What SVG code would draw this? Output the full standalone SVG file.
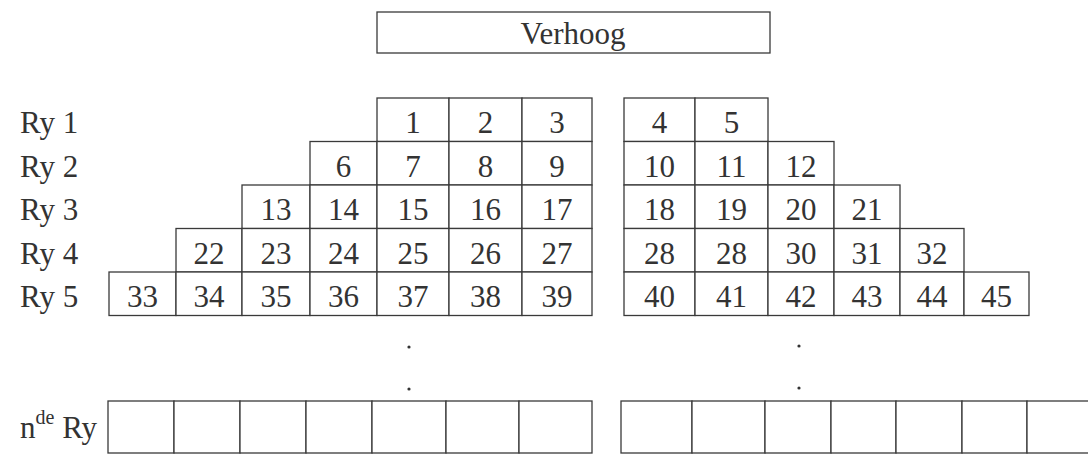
<svg xmlns="http://www.w3.org/2000/svg" width="1088" height="455" viewBox="0 0 1088 455">
<style>
.c{fill:#fff;stroke:#3a3a3a;stroke-width:1.3}
.t{font-family:"Liberation Serif","Times New Roman",serif;font-size:31px;fill:#333;text-anchor:middle}
.l{font-family:"Liberation Serif","Times New Roman",serif;font-size:31px;fill:#333}
.d{fill:#333}
</style>
<rect width="1088" height="455" fill="#fff"/>
<g id="verhoog"><rect class="c" x="377" y="12" width="393" height="41"/><text class="t" x="573" y="44">Verhoog</text></g>
<g id="labels">
<text class="l" x="20" y="133">Ry 1</text>
<text class="l" x="20" y="176.5">Ry 2</text>
<text class="l" x="20" y="220">Ry 3</text>
<text class="l" x="20" y="263.5">Ry 4</text>
<text class="l" x="20" y="307">Ry 5</text>
<text class="l" x="20" y="438">n<tspan font-size="20" dy="-14">de</tspan><tspan dy="14"> Ry</tspan></text>
</g>
<g id="row1">
<g id="c1"><rect class="c" x="377" y="98" width="72" height="43.5"/><text class="t" x="413" y="133">1</text></g>
<g id="c2"><rect class="c" x="449" y="98" width="73" height="43.5"/><text class="t" x="485.5" y="133">2</text></g>
<g id="c3"><rect class="c" x="522" y="98" width="70" height="43.5"/><text class="t" x="557" y="133">3</text></g>
<g id="c4"><rect class="c" x="624" y="98" width="71" height="43.5"/><text class="t" x="659.5" y="133">4</text></g>
<g id="c5"><rect class="c" x="695" y="98" width="73" height="43.5"/><text class="t" x="731.5" y="133">5</text></g>
</g>
<g id="row2">
<g id="c6"><rect class="c" x="310" y="141.5" width="67" height="43.5"/><text class="t" x="343.5" y="176.5">6</text></g>
<g id="c7"><rect class="c" x="377" y="141.5" width="72" height="43.5"/><text class="t" x="413" y="176.5">7</text></g>
<g id="c8"><rect class="c" x="449" y="141.5" width="73" height="43.5"/><text class="t" x="485.5" y="176.5">8</text></g>
<g id="c9"><rect class="c" x="522" y="141.5" width="70" height="43.5"/><text class="t" x="557" y="176.5">9</text></g>
<g id="c10"><rect class="c" x="624" y="141.5" width="71" height="43.5"/><text class="t" x="659.5" y="176.5">10</text></g>
<g id="c11"><rect class="c" x="695" y="141.5" width="73" height="43.5"/><text class="t" x="731.5" y="176.5">11</text></g>
<g id="c12"><rect class="c" x="768" y="141.5" width="66" height="43.5"/><text class="t" x="801" y="176.5">12</text></g>
</g>
<g id="row3">
<g id="c13"><rect class="c" x="242" y="185" width="68" height="43.5"/><text class="t" x="276" y="220">13</text></g>
<g id="c14"><rect class="c" x="310" y="185" width="67" height="43.5"/><text class="t" x="343.5" y="220">14</text></g>
<g id="c15"><rect class="c" x="377" y="185" width="72" height="43.5"/><text class="t" x="413" y="220">15</text></g>
<g id="c16"><rect class="c" x="449" y="185" width="73" height="43.5"/><text class="t" x="485.5" y="220">16</text></g>
<g id="c17"><rect class="c" x="522" y="185" width="70" height="43.5"/><text class="t" x="557" y="220">17</text></g>
<g id="c18"><rect class="c" x="624" y="185" width="71" height="43.5"/><text class="t" x="659.5" y="220">18</text></g>
<g id="c19"><rect class="c" x="695" y="185" width="73" height="43.5"/><text class="t" x="731.5" y="220">19</text></g>
<g id="c20"><rect class="c" x="768" y="185" width="66" height="43.5"/><text class="t" x="801" y="220">20</text></g>
<g id="c21"><rect class="c" x="834" y="185" width="66" height="43.5"/><text class="t" x="867" y="220">21</text></g>
</g>
<g id="row4">
<g id="c22"><rect class="c" x="176" y="228.5" width="66" height="43.5"/><text class="t" x="209" y="263.5">22</text></g>
<g id="c23"><rect class="c" x="242" y="228.5" width="68" height="43.5"/><text class="t" x="276" y="263.5">23</text></g>
<g id="c24"><rect class="c" x="310" y="228.5" width="67" height="43.5"/><text class="t" x="343.5" y="263.5">24</text></g>
<g id="c25"><rect class="c" x="377" y="228.5" width="72" height="43.5"/><text class="t" x="413" y="263.5">25</text></g>
<g id="c26"><rect class="c" x="449" y="228.5" width="73" height="43.5"/><text class="t" x="485.5" y="263.5">26</text></g>
<g id="c27"><rect class="c" x="522" y="228.5" width="70" height="43.5"/><text class="t" x="557" y="263.5">27</text></g>
<g id="c28a"><rect class="c" x="624" y="228.5" width="71" height="43.5"/><text class="t" x="659.5" y="263.5">28</text></g>
<g id="c28b"><rect class="c" x="695" y="228.5" width="73" height="43.5"/><text class="t" x="731.5" y="263.5">28</text></g>
<g id="c30"><rect class="c" x="768" y="228.5" width="66" height="43.5"/><text class="t" x="801" y="263.5">30</text></g>
<g id="c31"><rect class="c" x="834" y="228.5" width="66" height="43.5"/><text class="t" x="867" y="263.5">31</text></g>
<g id="c32"><rect class="c" x="900" y="228.5" width="64" height="43.5"/><text class="t" x="932" y="263.5">32</text></g>
</g>
<g id="row5">
<g id="c33"><rect class="c" x="109" y="272" width="67" height="43.5"/><text class="t" x="142.5" y="307">33</text></g>
<g id="c34"><rect class="c" x="176" y="272" width="66" height="43.5"/><text class="t" x="209" y="307">34</text></g>
<g id="c35"><rect class="c" x="242" y="272" width="68" height="43.5"/><text class="t" x="276" y="307">35</text></g>
<g id="c36"><rect class="c" x="310" y="272" width="67" height="43.5"/><text class="t" x="343.5" y="307">36</text></g>
<g id="c37"><rect class="c" x="377" y="272" width="72" height="43.5"/><text class="t" x="413" y="307">37</text></g>
<g id="c38"><rect class="c" x="449" y="272" width="73" height="43.5"/><text class="t" x="485.5" y="307">38</text></g>
<g id="c39"><rect class="c" x="522" y="272" width="70" height="43.5"/><text class="t" x="557" y="307">39</text></g>
<g id="c40"><rect class="c" x="624" y="272" width="71" height="43.5"/><text class="t" x="659.5" y="307">40</text></g>
<g id="c41"><rect class="c" x="695" y="272" width="73" height="43.5"/><text class="t" x="731.5" y="307">41</text></g>
<g id="c42"><rect class="c" x="768" y="272" width="66" height="43.5"/><text class="t" x="801" y="307">42</text></g>
<g id="c43"><rect class="c" x="834" y="272" width="66" height="43.5"/><text class="t" x="867" y="307">43</text></g>
<g id="c44"><rect class="c" x="900" y="272" width="64" height="43.5"/><text class="t" x="932" y="307">44</text></g>
<g id="c45"><rect class="c" x="964" y="272" width="65" height="43.5"/><text class="t" x="996.5" y="307">45</text></g>
</g>
<g id="dots">
<circle class="d" cx="409" cy="347" r="1.6"/>
<circle class="d" cx="409" cy="389" r="1.6"/>
<circle class="d" cx="799" cy="346" r="1.6"/>
<circle class="d" cx="799" cy="388" r="1.6"/>
</g>
<g id="rowN">
<rect class="c" x="108" y="401" width="66" height="52"/>
<rect class="c" x="174" y="401" width="66" height="52"/>
<rect class="c" x="240" y="401" width="66" height="52"/>
<rect class="c" x="306" y="401" width="66" height="52"/>
<rect class="c" x="372" y="401" width="74" height="52"/>
<rect class="c" x="446" y="401" width="73" height="52"/>
<rect class="c" x="519" y="401" width="73" height="52"/>
<rect class="c" x="621" y="401" width="71" height="52"/>
<rect class="c" x="692" y="401" width="73" height="52"/>
<rect class="c" x="765" y="401" width="66" height="52"/>
<rect class="c" x="831" y="401" width="65" height="52"/>
<rect class="c" x="896" y="401" width="66" height="52"/>
<rect class="c" x="962" y="401" width="65" height="52"/>
<rect class="c" x="1027" y="401" width="70" height="52"/>
</g>
</svg>
